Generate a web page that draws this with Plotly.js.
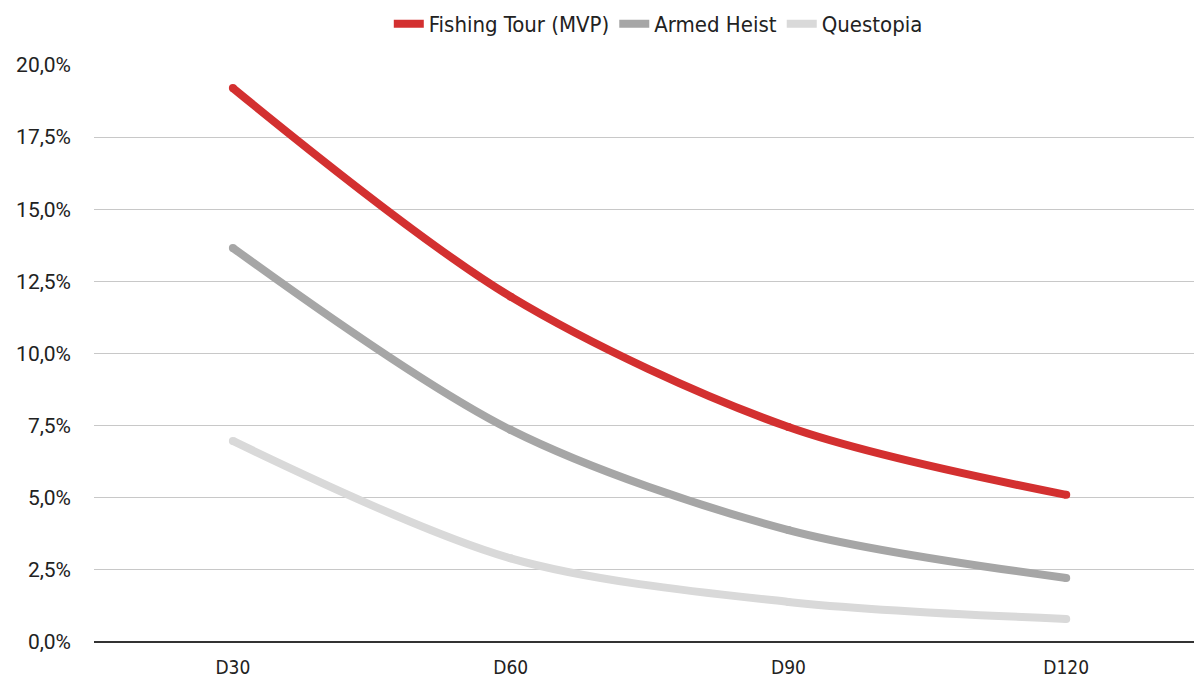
<!DOCTYPE html>
<html>
<head>
<meta charset="utf-8">
<script src="https://cdn.plot.ly/plotly-3.0.1.min.js"></script>
<style>html,body{margin:0;padding:0;background:#fff;}#chart{width:1194px;height:684px;}</style>
</head>
<body>
<div id="chart"></div>
<script>
const categories = ["D30", "D60", "D90", "D120"];
const fishingTour = [0.192, 0.1197, 0.0745, 0.051];
const armedHeist = [0.1366, 0.0735, 0.0388, 0.0222];
const questopia = [0.0697, 0.029, 0.0139, 0.008];
const seriesNames = ["Fishing Tour (MVP)", "Armed Heist", "Questopia"];
const seriesColors = ["#d33030", "#a6a6a6", "#d9d9d9"];
const seriesValues = [fishingTour, armedHeist, questopia];

const traces = [];
for (let i = seriesValues.length - 1; i >= 0; i--) {
  traces.push({
    type: "scatter", mode: "lines", x: categories, y: seriesValues[i], name: seriesNames[i],
    legendrank: i + 1,
    line: {color: seriesColors[i], width: 8, shape: "spline", smoothing: 0.9},
    hoverinfo: "skip"
  });
  // round caps at the line ends
  traces.push({
    type: "scatter", mode: "markers", x: categories, y: seriesValues[i], showlegend: false,
    marker: {color: seriesColors[i], size: 8, line: {width: 0}}, hoverinfo: "skip"
  });
}

const narrow = "'DejaVu Sans Condensed', 'Liberation Sans Narrow', Roboto, sans-serif";
const layout = {
  width: 1194, height: 684,
  margin: {l: 94, r: 0, t: 65, b: 42},
  paper_bgcolor: "#fff", plot_bgcolor: "#fff",
  separators: ",.",
  font: {family: narrow, size: 19, color: "#222"},
  showlegend: true,
  legend: {orientation: "h", x: 0.513, xanchor: "center", y: 1.071, yanchor: "middle",
           traceorder: "normal", font: {family: narrow, size: 22, color: "#222"}},
  xaxis: {type: "category", range: [-0.5, 3.46], showgrid: false, showline: false, zeroline: false,
          ticks: "", tickfont: {family: narrow, size: 19, color: "#222"}, ticklabelstandoff: 12},
  yaxis: {range: [0, 0.2], dtick: 0.025, tickformat: ".1%", showgrid: true, gridcolor: "#c8c8c8",
          gridwidth: 1, zeroline: true, zerolinecolor: "#333", zerolinewidth: 1.5, showline: false,
          ticks: "", tickfont: {family: "Roboto, sans-serif", size: 21, color: "#222"}, ticklabelstandoff: 22}
};
Plotly.newPlot("chart", traces, layout, {staticPlot: true});
</script>
</body>
</html>
